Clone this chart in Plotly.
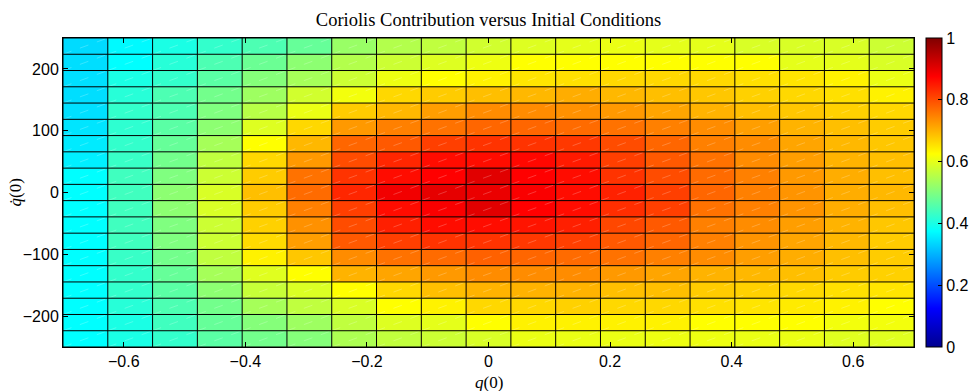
import numpy as np
import plotly.graph_objects as go

# Grid of initial conditions (cell edges)
q0_edges = np.linspace(-0.7, 0.7, 20)
qdot0_edges = np.linspace(-250, 250, 20)

# Coriolis contribution per cell, rows listed from top (qdot = 250) to bottom (qdot = -250)
contribution = [
    [0.340, 0.370, 0.400, 0.425, 0.450, 0.475, 0.525, 0.550, 0.563, 0.580, 0.593, 0.600, 0.605, 0.600, 0.600, 0.588, 0.588, 0.588, 0.575],
    [0.343, 0.375, 0.413, 0.450, 0.480, 0.513, 0.550, 0.575, 0.593, 0.608, 0.625, 0.625, 0.625, 0.625, 0.625, 0.625, 0.600, 0.600, 0.588],
    [0.345, 0.400, 0.425, 0.463, 0.505, 0.538, 0.575, 0.608, 0.625, 0.638, 0.650, 0.655, 0.663, 0.663, 0.663, 0.655, 0.650, 0.638, 0.605],
    [0.343, 0.413, 0.450, 0.488, 0.530, 0.580, 0.613, 0.663, 0.675, 0.688, 0.695, 0.705, 0.695, 0.688, 0.680, 0.670, 0.663, 0.655, 0.638],
    [0.345, 0.425, 0.450, 0.500, 0.555, 0.605, 0.675, 0.695, 0.720, 0.738, 0.738, 0.733, 0.725, 0.713, 0.700, 0.688, 0.680, 0.670, 0.663],
    [0.350, 0.420, 0.463, 0.513, 0.593, 0.663, 0.725, 0.750, 0.763, 0.775, 0.775, 0.770, 0.763, 0.750, 0.738, 0.720, 0.700, 0.688, 0.675],
    [0.355, 0.425, 0.475, 0.538, 0.625, 0.695, 0.775, 0.788, 0.813, 0.825, 0.825, 0.820, 0.800, 0.775, 0.750, 0.738, 0.713, 0.695, 0.680],
    [0.360, 0.430, 0.488, 0.563, 0.663, 0.725, 0.800, 0.838, 0.863, 0.863, 0.868, 0.850, 0.813, 0.788, 0.763, 0.738, 0.720, 0.700, 0.688],
    [0.375, 0.438, 0.500, 0.575, 0.675, 0.763, 0.825, 0.863, 0.875, 0.905, 0.875, 0.863, 0.825, 0.800, 0.770, 0.750, 0.725, 0.705, 0.688],
    [0.375, 0.438, 0.513, 0.588, 0.688, 0.770, 0.838, 0.888, 0.900, 0.895, 0.880, 0.863, 0.843, 0.813, 0.775, 0.750, 0.730, 0.705, 0.695],
    [0.375, 0.438, 0.513, 0.588, 0.675, 0.750, 0.813, 0.863, 0.880, 0.905, 0.875, 0.863, 0.830, 0.813, 0.763, 0.750, 0.730, 0.705, 0.688],
    [0.375, 0.438, 0.500, 0.575, 0.670, 0.733, 0.800, 0.845, 0.863, 0.863, 0.855, 0.845, 0.805, 0.788, 0.750, 0.738, 0.720, 0.700, 0.680],
    [0.375, 0.438, 0.500, 0.575, 0.660, 0.720, 0.788, 0.813, 0.825, 0.825, 0.820, 0.813, 0.788, 0.775, 0.750, 0.730, 0.713, 0.695, 0.675],
    [0.375, 0.430, 0.488, 0.563, 0.638, 0.680, 0.738, 0.763, 0.770, 0.780, 0.775, 0.770, 0.763, 0.750, 0.738, 0.720, 0.705, 0.688, 0.675],
    [0.375, 0.425, 0.475, 0.538, 0.595, 0.625, 0.700, 0.713, 0.725, 0.738, 0.738, 0.738, 0.725, 0.713, 0.700, 0.695, 0.688, 0.675, 0.670],
    [0.375, 0.425, 0.463, 0.513, 0.570, 0.590, 0.625, 0.663, 0.688, 0.700, 0.700, 0.700, 0.688, 0.688, 0.675, 0.670, 0.663, 0.655, 0.650],
    [0.375, 0.413, 0.450, 0.488, 0.538, 0.563, 0.588, 0.625, 0.638, 0.663, 0.663, 0.670, 0.663, 0.663, 0.655, 0.650, 0.645, 0.638, 0.625],
    [0.375, 0.400, 0.438, 0.475, 0.505, 0.530, 0.563, 0.593, 0.600, 0.625, 0.638, 0.638, 0.638, 0.638, 0.625, 0.625, 0.625, 0.613, 0.613],
    [0.375, 0.400, 0.425, 0.463, 0.488, 0.505, 0.545, 0.565, 0.575, 0.588, 0.605, 0.605, 0.605, 0.608, 0.608, 0.605, 0.605, 0.595, 0.595],
]

x_ticks = [-0.6, -0.4, -0.2, 0, 0.2, 0.4, 0.6]
x_tick_text = ["\u22120.6", "\u22120.4", "\u22120.2", "0", "0.2", "0.4", "0.6"]
y_ticks = [-200, -100, 0, 100, 200]
y_tick_text = ["\u2212200", "\u2212100", "0", "100", "200"]
cbar_ticks = [0, 0.2, 0.4, 0.6, 0.8, 1]
cbar_tick_text = ["0", "0.2", "0.4", "0.6", "0.8", "1"]

jet = [
    [0.0, "rgb(0,0,143)"],
    [0.125, "rgb(0,0,255)"],
    [0.375, "rgb(0,255,255)"],
    [0.625, "rgb(255,255,0)"],
    [0.875, "rgb(255,0,0)"],
    [1.0, "rgb(128,0,0)"],
]

z = contribution[::-1]  # bottom row first so y increases upward

tick_font = dict(family="Liberation Sans, Arial, sans-serif", size=16, color="black")
serif = "Liberation Serif, Times New Roman, serif"

fig = go.Figure()

fig.add_trace(go.Heatmap(
    x=q0_edges, y=qdot0_edges, z=z,
    zmin=0, zmax=1, colorscale=jet,
    hoverinfo="skip",
    colorbar=dict(
        thickness=16, len=1, lenmode="fraction", y=0.5, yanchor="middle",
        x=1.0141, xanchor="left", xpad=0, ypad=0,
        outlinewidth=1, outlinecolor="black",
        tickvals=cbar_ticks, ticktext=cbar_tick_text,
        ticks="inside", ticklen=4, tickcolor="black",
        tickfont=tick_font,
    ),
))

# Faint diagonal facet edges inside every cell
dx, dy = [], []
for i in range(len(q0_edges) - 1):
    for j in range(len(qdot0_edges) - 1):
        dx += [q0_edges[i], q0_edges[i + 1], None]
        dy += [qdot0_edges[j], qdot0_edges[j + 1], None]
fig.add_trace(go.Scatter(
    x=dx, y=dy, mode="lines", hoverinfo="skip", showlegend=False,
    line=dict(color="rgba(255,255,255,0.22)", width=1, dash="dash"),
))

# Black cell borders
gx, gy = [], []
for xv in q0_edges:
    gx += [xv, xv, None]
    gy += [qdot0_edges[0], qdot0_edges[-1], None]
for yv in qdot0_edges:
    gx += [q0_edges[0], q0_edges[-1], None]
    gy += [yv, yv, None]
fig.add_trace(go.Scatter(
    x=gx, y=gy, mode="lines", hoverinfo="skip", showlegend=False,
    line=dict(color="black", width=1),
))

fig.update_layout(
    width=974, height=391,
    margin=dict(l=63, r=60, t=38, b=44, autoexpand=False),
    paper_bgcolor="white", plot_bgcolor="white",
    title=dict(
        text="Coriolis Contribution versus Initial Conditions",
        x=0.5, xref="paper", xanchor="center",
        y=1 - 20 / 391, yref="container", yanchor="middle",
        font=dict(family=serif, size=18.5, color="black"),
    ),
    xaxis=dict(
        range=[-0.7, 0.7], tickvals=x_ticks, ticktext=x_tick_text,
        ticks="inside", ticklen=5, tickcolor="black", mirror="ticks",
        showline=True, linecolor="black", linewidth=1,
        showgrid=False, zeroline=False, tickfont=tick_font,
    ),
    yaxis=dict(
        range=[-250, 250], tickvals=y_ticks, ticktext=y_tick_text,
        ticks="inside", ticklen=5, tickcolor="black", mirror="ticks",
        showline=True, linecolor="black", linewidth=1,
        showgrid=False, zeroline=False, tickfont=tick_font,
    ),
    annotations=[
        dict(text="<i>q</i>(0)", xref="paper", yref="paper", x=0.5, y=-(382 - 347) / 309,
             xanchor="center", yanchor="middle", showarrow=False,
             font=dict(family=serif, size=17, color="black")),
        dict(text="<i>q\u0307</i>(0)", xref="paper", yref="paper", x=(15 - 63) / 851, y=0.5,
             xanchor="center", yanchor="middle", textangle=-90, showarrow=False,
             font=dict(family=serif, size=17, color="black")),
    ],
)

fig.write_html("out.html")
